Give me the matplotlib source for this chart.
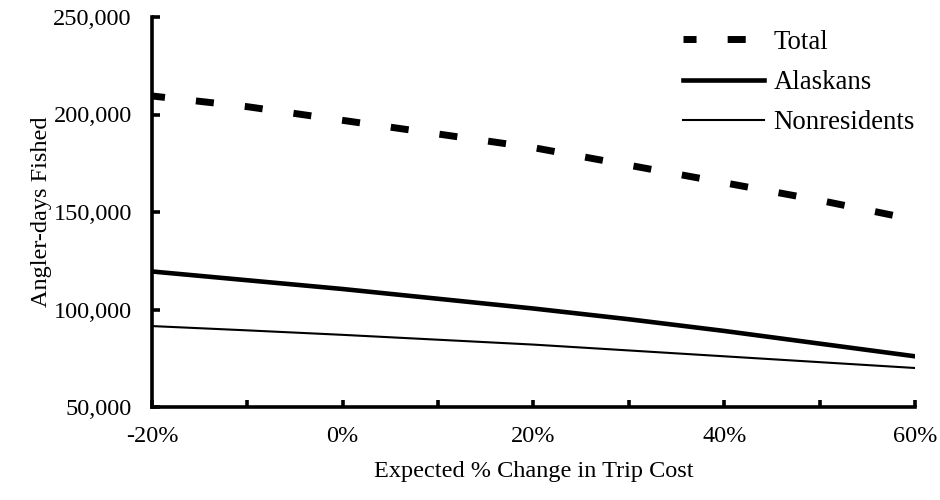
import matplotlib
matplotlib.use("Agg")
import matplotlib.pyplot as plt
from matplotlib.ticker import FuncFormatter, MultipleLocator

# expected % change in trip cost
pct_change = [-20, -10, 0, 10, 20, 30, 40, 50, 60]

# angler-days fished
total = [209500, 204000, 197000, 190000, 183000, 174000, 165000, 156000, 146000]
alaskans = [119500, 115000, 110500, 105500, 100500, 95000, 89000, 82500, 76000]
nonresidents = [91500, 89300, 87000, 84500, 82000, 79000, 76000, 73000, 70000]

plt.rcParams["font.family"] = ["Liberation Serif", "DejaVu Serif"]
plt.rcParams["lines.scale_dashes"] = False
FS = 17.5

fig = plt.figure(figsize=(9.4, 5.0), dpi=100)
ax = fig.add_axes([0.1617, 0.186, 0.8117, 0.780])

# dash ~18px, gap ~31px; first dash clipped by the axis
ax.plot(pct_change, total, color="black", lw=5, ls=(3.6, (13, 22.4)), label="Total")
ax.plot(pct_change, alaskans, color="black", lw=3.3, label="Alaskans")
ax.plot(pct_change, nonresidents, color="black", lw=1.5, label="Nonresidents")

ax.set_xlim(-20, 60)
ax.set_ylim(50000, 250000)
ax.xaxis.set_major_locator(MultipleLocator(20))
ax.xaxis.set_minor_locator(MultipleLocator(10))
ax.yaxis.set_major_locator(MultipleLocator(50000))
ax.xaxis.set_major_formatter(FuncFormatter(lambda v, p: f"{v:.0f}%"))
ax.yaxis.set_major_formatter(FuncFormatter(lambda v, p: f"{v:,.0f}"))

for s in ("top", "right"):
    ax.spines[s].set_visible(False)
for s in ("left", "bottom"):
    ax.spines[s].set_linewidth(2.6)

ax.tick_params(axis="both", which="both", direction="in", width=2.6, labelsize=FS)
ax.tick_params(axis="x", which="both", length=5, pad=14)
ax.tick_params(axis="y", which="major", length=6, pad=14.5)

ax.set_xlabel("Expected % Change in Trip Cost", fontsize=FS, labelpad=10)
ax.set_ylabel("Angler-days Fished", fontsize=FS, labelpad=1)

leg = ax.legend(loc="upper right", bbox_to_anchor=(1.0, 0.967), frameon=False,
                fontsize=19.3, handlelength=3.0, handletextpad=0.37,
                labelspacing=0.57, borderaxespad=0, borderpad=0)

fig.savefig("out.png", dpi=100)
